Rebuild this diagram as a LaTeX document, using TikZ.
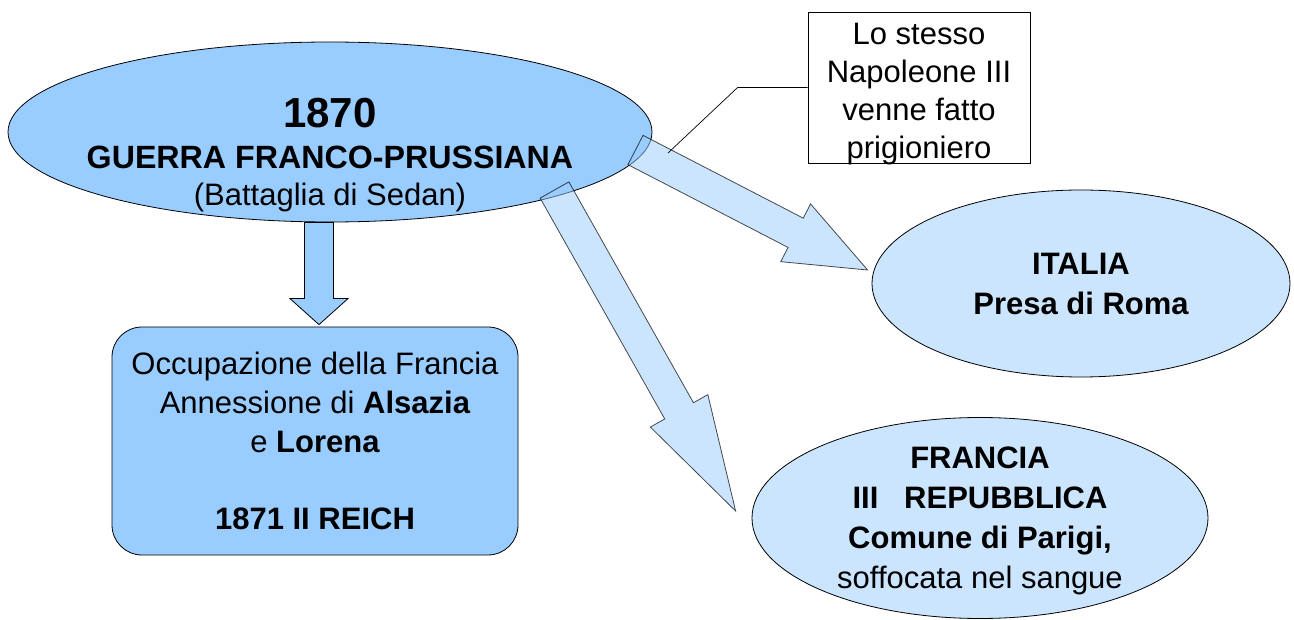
\documentclass[tikz,border=0pt]{standalone}
\usepackage{fontspec}
\setmainfont{Liberation Sans}
\usetikzlibrary{calc,shapes.geometric}
\definecolor{cielo}{RGB}{153,204,255}
\definecolor{cielochiaro}{RGB}{204,229,255}
% block arrow: style, tail, tip, half shaft, half head, head length
\newcommand{\bigarrow}[6]{%
  \coordinate (hb) at ($(#3)!#6!(#2)$);
  \draw[#1] ($(#2)!#4!90:(#3)$) -- ($(hb)!#4!90:(#3)$) -- ($(hb)!#5!90:(#3)$) -- (#3)
    -- ($(hb)!#5!-90:(#3)$) -- ($(hb)!#4!-90:(#3)$) -- ($(#2)!#4!-90:(#3)$) -- cycle;}
\begin{document}
\begin{tikzpicture}[x=1pt,y=-1pt,
  every node/.style={font=\fontsize{31}{38.75}\selectfont, inner sep=0pt, align=center},
  bubble/.style={ellipse, draw, line width=0.8pt, fill=cielo},
  bubblechiara/.style={ellipse, draw, line width=0.8pt, fill=cielochiaro},
  blocco/.style={draw, line width=0.8pt, fill=cielo, join=miter},
  bloccochiaro/.style={draw, line width=0.8pt, fill=cielo, fill opacity=0.5, draw opacity=0.7, join=miter}]
\useasboundingbox (0,0) rectangle (1294,620);
%
\node[bubble, minimum width=644pt, minimum height=180pt] (guerra) at (330,132) {};
\node[font=\fontsize{31}{37}\selectfont\bfseries] (guerratxt) at (330,155)
  {{\fontsize{42}{42}\selectfont 1870}\\[3.5pt] {\fontsize{32.2}{37}\selectfont GUERRA FRANCO-PRUSSIANA}\\ \mdseries (Battaglia di Sedan)};
%
\node[draw, line width=0.8pt, fill=cielo, rounded corners=30pt, minimum width=406pt, minimum height=228pt] (occ) at (315,441)
  {Occupazione della Francia\\ Annessione di \textbf{Alsazia}\\ e \textbf{Lorena}\\[38.75pt] \textbf{1871 II REICH}};
%
\node[bubblechiara, minimum width=418pt, minimum height=187pt, font=\fontsize{31}{40}\selectfont\bfseries] (italia) at (1081,283.5)
  {ITALIA\\ Presa di Roma};
%
\node[bubblechiara, minimum width=456pt, minimum height=201pt] (francia) at (980,518) {};
\node[font=\fontsize{31}{40}\selectfont] (franciatxt) at (980,521)
  {\textbf{FRANCIA}\\ \textbf{III~~~REPUBBLICA}\\ \textbf{Comune di Parigi,}\\ soffocata nel sangue};
%
\node[draw, line width=0.8pt, minimum width=222pt, minimum height=151pt] (napo) at (919,87.5) {};
\node[font=\fontsize{31}{38}\selectfont, text depth=0pt] (napotxt) at (919,90.5)
  {Lo stesso\\ Napoleone III\\ venne fatto\\ prigioniero};
%
\coordinate (giu) at ($(guerra.south)+(-11,0)$);
\coordinate (giufine) at ($(occ.north)+(4,-2)$);
\bigarrow{blocco}{giu}{giufine}{14.5pt}{29pt}{26pt}
%
\coordinate (coda1) at ($(guerra.center)+(305.5,18)$);
\coordinate (punta1) at ($(italia.west)+(-4,-13.5)$);
\bigarrow{bloccochiaro}{coda1}{punta1}{16.5pt}{32.5pt}{81pt}
%
\coordinate (coda2) at ($(guerra.center)+(224.5,58)$);
\coordinate (punta2) at ($(francia.west)+(-16,-7)$);
\bigarrow{bloccochiaro}{coda2}{punta2}{16.5pt}{33pt}{115pt}
%
\coordinate (napofine) at (668,153);
\draw[line width=0.7pt] (napo.west) -- ++(-70,0) -- (napofine);
\end{tikzpicture}
\end{document}
